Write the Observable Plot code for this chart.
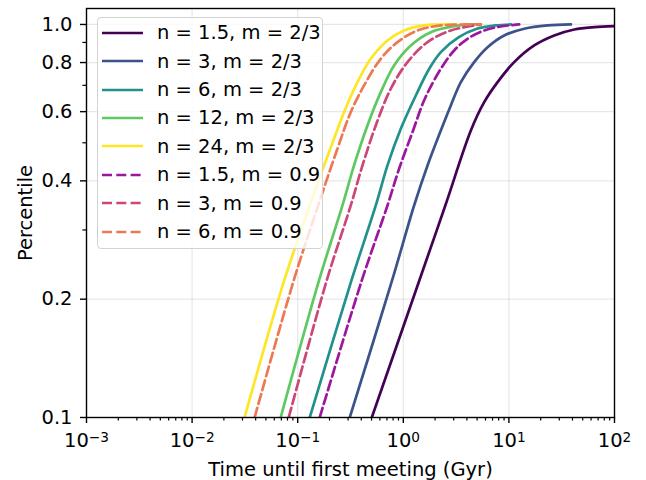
<!DOCTYPE html>
<html><head><meta charset="utf-8">
<script src="https://cdn.jsdelivr.net/npm/d3@7"></script>
<script src="https://cdn.jsdelivr.net/npm/@observablehq/plot@0.6"></script>
<style>
body{margin:0;background:#fff;}
#wrap{position:relative;width:646px;height:480px;font-family:"DejaVu Sans";}
#legend{position:absolute;left:97px;top:17px;width:226px;height:232px;box-sizing:border-box;border:1px solid #d3d3d3;border-radius:4px;background:rgba(255,255,255,0.8);}
.row{position:absolute;left:0;height:28px;display:flex;align-items:center;font-size:19.5px;color:#000;white-space:nowrap;font-family:"DejaVu Sans";}
.row svg{margin-left:4px;margin-right:14px;display:block}
</style></head><body><div id="wrap"></div>
<script>
// ---- data (time in Gyr, percentile) ----
const labels = ["n = 1.5, m = 2/3","n = 3, m = 2/3","n = 6, m = 2/3","n = 12, m = 2/3","n = 24, m = 2/3","n = 1.5, m = 0.9","n = 3, m = 0.9","n = 6, m = 0.9"];
const colors = ["#440154","#3b528b","#21918c","#5ec962","#fde725","#9c179e","#cc4778","#ed7953"];
const dashed = [false,false,false,false,false,true,true,true];

const s1x = [0.503,1.418,2.500,4.363,5.834,7.815,11.22,17.37,26.88,41.6,64.4,100];
const s1y = [0.1,0.2232,0.3463,0.5374,0.6342,0.7132,0.8020,0.8843,0.9376,0.9711,0.9843,0.9901];
const s2x = [0.311,0.783,1.266,1.696,2.267,2.819,3.508,4.690,6.283,9.027,13.96,23.27,38.7];
const s2y = [0.1,0.2232,0.3463,0.4378,0.5374,0.6222,0.7132,0.8020,0.8752,0.9376,0.9751,0.9942,1.0];
const s3x = [0.130,0.3228,0.5488,0.7082,0.9469,1.314,1.760,2.267,3.357,4.974,7.53,10.45];
const s3y = [0.1,0.2232,0.3463,0.4378,0.5428,0.6597,0.7714,0.8502,0.9284,0.9751,0.9942,1.0];
const s4x = [0.0690,0.1592,0.2653,0.3417,0.4577,0.6119,0.8182,1.178,1.822,3.030,4.659];
const s4y = [0.1,0.2232,0.3463,0.4378,0.5534,0.6726,0.7865,0.8843,0.9559,0.9901,1.0];
const s5x = [0.0314,0.0745,0.1300,0.1776,0.2208,0.2748,0.3681,0.4920,0.7082,1.018,1.575,3.145];
const s5y = [0.1,0.2232,0.3463,0.4378,0.5119,0.5981,0.7132,0.8178,0.9106,0.9654,0.9942,1.0];
const s6x = [0.1616,0.4044,0.7082,0.9125,1.222,1.599,2.267,3.030,4.058,5.834,8.40,12.52];
const s6y = [0.1,0.2232,0.3463,0.4294,0.5322,0.6471,0.7714,0.8586,0.9196,0.9654,0.9883,1.0];
const s7x = [0.0822,0.1883,0.3180,0.4106,0.5488,0.7613,1.096,1.696,2.819,5.43];
const s7y = [0.1,0.2232,0.3463,0.4378,0.5534,0.6862,0.8020,0.9017,0.9654,1.0];
const s8x = [0.0391,0.0917,0.1561,0.2378,0.3180,0.4250,0.6119,0.8810,1.363,2.267,5.43];
const s8y = [0.1,0.2232,0.3463,0.4829,0.5981,0.6995,0.8178,0.9017,0.9654,0.9942,1.0];

const xMajor = [1e-3,1e-2,1e-1,1e0,1e1,1e2];
const xExponents = ["\u22123","\u22122","\u22121","0","1","2"];
const yMajor = [0.1,0.2,0.4,0.6,0.8,1.0];
const yMajorLabels = ["0.1","0.2","0.4","0.6","0.8","1.0"];
const yMinor = [0.3,0.5,0.7,0.9];
const xLabel = "Time until first meeting (Gyr)";
const yLabel = "Percentile";

// ---- build ----
const seriesX = [s1x,s2x,s3x,s4x,s5x,s6x,s7x,s8x];
const seriesY = [s1y,s2y,s3y,s4y,s5y,s6y,s7y,s8y];
const xMinor = [];
for (let e = -3; e < 2; e++) for (let k = 2; k <= 9; k++) xMinor.push(k * Math.pow(10, e));

const lineMarks = seriesX.map((xs, i) => Plot.line(xs.map((x, j) => ({x, y: seriesY[i][j]})), {
  x: "x", y: "y", stroke: colors[i], strokeWidth: 2.7, curve: "catmull-rom",
  strokeDasharray: dashed[i] ? "10,4.3" : null, clip: true
}));

const chart = Plot.plot({
  width: 646, height: 480,
  marginLeft: 86, marginRight: 32, marginTop: 8, marginBottom: 63,
  style: {fontFamily: "DejaVu Sans", fontSize: "19.5px", background: "white", color: "black"},
  x: {type: "log", domain: [1e-3, 1e2]},
  y: {type: "log", domain: [0.1, 1.098]},
  marks: [
    Plot.gridX(xMajor.slice(1, -1), {stroke: "#b0b0b0", strokeOpacity: 0.3, strokeWidth: 1.2}),
    Plot.gridY(yMajor.slice(1), {stroke: "#b0b0b0", strokeOpacity: 0.3, strokeWidth: 1.2}),
    ...lineMarks,
    Plot.axisX(xMinor, {tickSize: 3.6, tickFormat: () => "", strokeWidth: 1.2, label: null}),
    Plot.axisX(xMajor, {tickSize: 6, tickPadding: 10, strokeWidth: 1.4,
      tickFormat: (d) => "10^" + xExponents[xMajor.indexOf(d)],
      label: xLabel, labelAnchor: "center", labelOffset: 58, labelArrow: "none"}),
    Plot.axisY(yMinor, {tickSize: 3.6, tickFormat: () => "", strokeWidth: 1.2, label: null}),
    Plot.axisY(yMajor, {tickSize: 6, tickPadding: 8, strokeWidth: 1.4,
      tickFormat: (d) => yMajorLabels[yMajor.indexOf(d)],
      label: yLabel, labelAnchor: "center", labelOffset: 68, labelArrow: "none"}),
    Plot.frame({stroke: "black", strokeWidth: 1.4})
  ]
});

// superscript exponents on the x tick labels
d3.select(chart).selectAll("text").each(function() {
  const t = this.textContent;
  if (/^10\^/.test(t)) {
    const exp = t.slice(3);
    const sel = d3.select(this);
    sel.text(null);
    sel.append("tspan").text("10");
    sel.append("tspan").attr("dy", "-0.4em").attr("font-size", "0.7em").text(exp);
  }
});

const wrap = document.getElementById("wrap");
wrap.appendChild(chart);

// legend
const legend = document.createElement("div");
legend.id = "legend";
labels.forEach((lab, i) => {
  const row = document.createElement("div");
  row.className = "row";
  row.style.top = (0.7 + 28.4 * i) + "px";
  const ns = "http://www.w3.org/2000/svg";
  const sw = document.createElementNS(ns, "svg");
  sw.setAttribute("width", 41); sw.setAttribute("height", 6);
  const ln = document.createElementNS(ns, "line");
  ln.setAttribute("x1", 0); ln.setAttribute("x2", 41);
  ln.setAttribute("y1", 3); ln.setAttribute("y2", 3);
  ln.setAttribute("stroke", colors[i]); ln.setAttribute("stroke-width", 2.7);
  if (dashed[i]) ln.setAttribute("stroke-dasharray", "10,4.3");
  sw.appendChild(ln);
  const tx = document.createElement("span");
  tx.textContent = lab;
  row.appendChild(sw); row.appendChild(tx);
  legend.appendChild(row);
});
wrap.appendChild(legend);
</script></body></html>
